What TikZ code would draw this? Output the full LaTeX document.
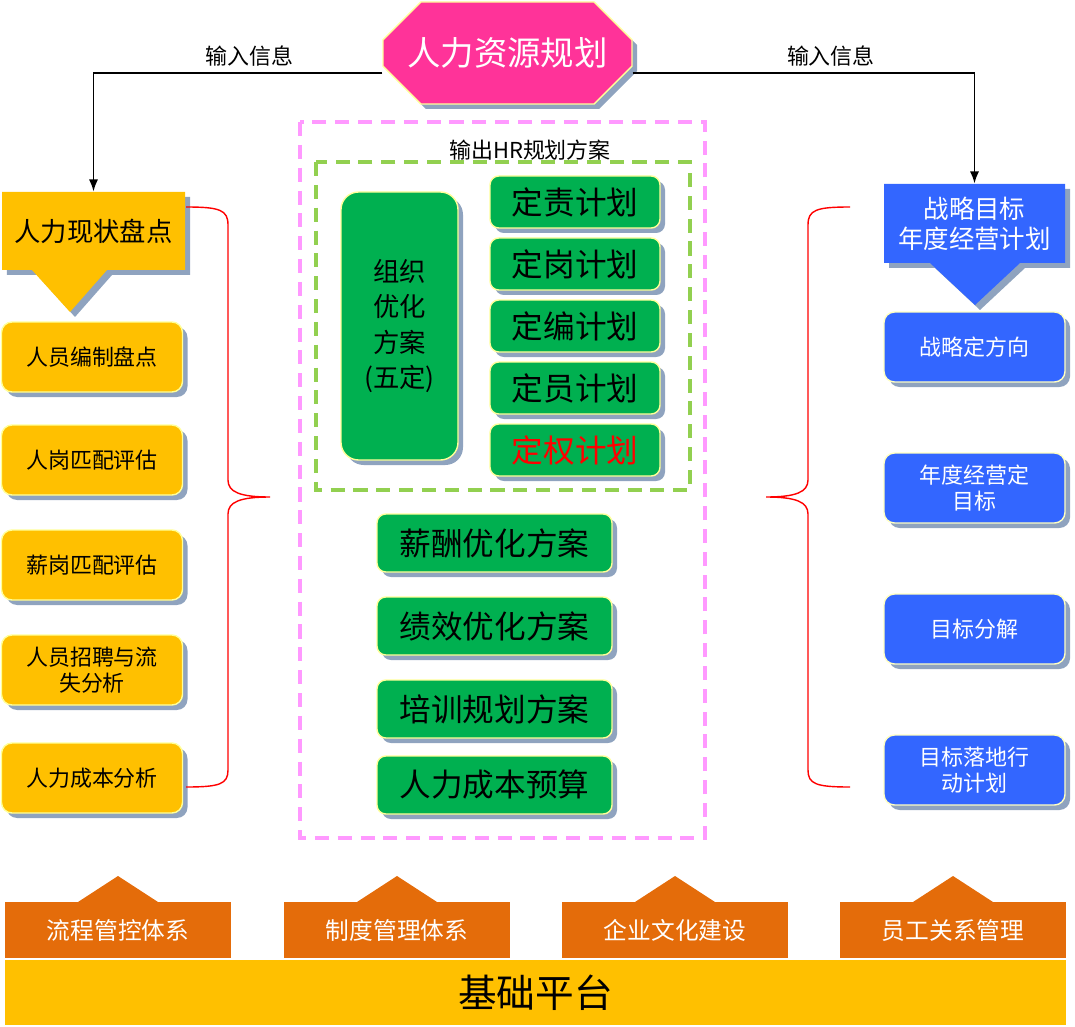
\documentclass[tikz,border=0pt]{standalone}
\usepackage{fontspec}
\setmainfont{Noto Sans CJK SC}
\usetikzlibrary{shapes.misc,shadows,arrows.meta}
\definecolor{hrpink}{HTML}{FF3399}
\definecolor{hryel}{HTML}{FFC000}
\definecolor{hrgrn}{HTML}{00B050}
\definecolor{hrblu}{HTML}{3366FF}
\definecolor{hrorg}{HTML}{E46C0A}
\definecolor{hrshd}{HTML}{8FA3BF}
\definecolor{hrrim}{HTML}{FFFF99}
\definecolor{hrdpk}{HTML}{FF99FF}
\definecolor{hrdgr}{HTML}{92D050}
\tikzset{
  sz/.style 2 args={minimum width=#1*0.02cm, minimum height=#2*0.02cm, inner sep=0pt},
  shd/.style={drop shadow={shadow xshift=0.1cm, shadow yshift=-0.1cm, fill=hrshd, opacity=1}},
  ybox/.style={rounded corners=6pt, fill=hryel, draw=hrrim, line width=0.8pt, shd, font=\fontsize{12.5}{15}\selectfont, align=center, sz={181}{70}},
  bbox/.style={rounded corners=6pt, fill=hrblu, draw=hrrim!60!white, line width=0.8pt, shd, text=white, font=\fontsize{12.5}{15}\selectfont, align=center, sz={181}{70}},
  gbox/.style={rounded corners=5pt, fill=hrgrn, draw=hrrim, line width=0.8pt, shd, font=\fontsize{18}{20}\selectfont},
  obox/.style={fill=hrorg, text=white, font=\fontsize{13.5}{16}\selectfont, sz={226}{56}},
  brace/.style={red, line width=0.8pt},
}
\begin{document}
\begin{tikzpicture}[x=0.02cm, y=-0.02cm]
  \useasboundingbox (0,0) rectangle (1075,1027);
  % top
  \node[chamfered rectangle, chamfered rectangle xsep=0.5cm, chamfered rectangle ysep=0.45cm,
        fill=hrpink, draw=hrrim, line width=0.8pt, shd, sz={249}{102}, text=white,
        font=\fontsize{19}{22}\selectfont] (top) at (507.5,53) {人力资源规划};
  % headers
  \path[fill=hryel, shd] (2,192) -- (185,192) -- (185,270) -- (107,270) -- (70,312)
        -- (32,270) -- (2,270) -- cycle;
  \node[sz={183}{78}, font=\fontsize{15}{18}\selectfont] (lhead) at (93.5,231) {人力现状盘点};
  \path[fill=hrblu, shd] (884,184) -- (1065,184) -- (1065,263) -- (1020,263) -- (975,305)
        -- (930,263) -- (884,263) -- cycle;
  \node[sz={181}{79}, text=white, align=center, font=\fontsize{14.5}{17}\selectfont] (rhead) at (974.5,223.5) {战略目标\\年度经营计划};
  \draw[-{Latex[length=7pt]}, line width=1.1pt] ([yshift=-0.4cm]top.west) -| (lhead.north)
        node[pos=0.23, above] {\fontsize{12.5}{14}\selectfont 输入信息};
  \draw[-{Latex[length=7pt]}, line width=1.1pt] ([yshift=-0.4cm]top.east) -| (rhead.north)
        node[pos=0.29, above] {\fontsize{12.5}{14}\selectfont 输入信息};
  % left column
  \node[ybox] (l1) at (92,357) {人员编制盘点};
  \node[ybox] (l2) at (92,460) {人岗匹配评估};
  \node[ybox] (l3) at (92,565) {薪岗匹配评估};
  \node[ybox] (l4) at (92,670) {人员招聘与流\\失分析};
  \node[ybox] (l5) at (92,778) {人力成本分析};
  % right column
  \node[bbox] (r1) at (974.5,347) {战略定方向};
  \node[bbox] (r2) at (974.5,488) {年度经营定\\目标};
  \node[bbox] (r3) at (974.5,629) {目标分解};
  \node[bbox] (r4) at (974.5,770) {目标落地行\\动计划};
  % braces
  \draw[brace] (186,207) .. controls (220,207) and (228,210) .. (228,225) -- (228,480)
        .. controls (228,492) and (240,497) .. (270,497)
        .. controls (240,497) and (228,502) .. (228,514) -- (228,770)
        .. controls (228,784) and (220,787) .. (186,787);
  \draw[brace] (850,207) .. controls (816,207) and (808,210) .. (808,225) -- (808,480)
        .. controls (808,492) and (796,497) .. (766,497)
        .. controls (796,497) and (808,502) .. (808,514) -- (808,770)
        .. controls (808,784) and (816,787) .. (850,787);
  % middle
  \draw[dash pattern=on 8pt off 5pt, line width=2pt, draw=hrdpk] (300,122) rectangle (705,838);
  \node[font=\fontsize{12.5}{15}\selectfont] (outl) at (530,150) {输出HR规划方案};
  \draw[dash pattern=on 8pt off 5pt, line width=2.5pt, draw=hrdgr] (316,162) rectangle (690,490);
  \node[gbox, sz={117}{268}, align=center, font=\fontsize{15}{20}\selectfont, rounded corners=10pt] (org) at (399.5,326) {组织\\优化\\方案\\(五定)};
  \node[gbox, sz={170}{52}] (p1) at (575,202) {定责计划};
  \node[gbox, sz={170}{52}] (p2) at (575,264) {定岗计划};
  \node[gbox, sz={170}{52}] (p3) at (575,326) {定编计划};
  \node[gbox, sz={170}{52}] (p4) at (575,388) {定员计划};
  \node[gbox, sz={170}{52}, text=red] (p5) at (575,450) {定权计划};
  \node[gbox, sz={235}{58}] (m1) at (494.5,543) {薪酬优化方案};
  \node[gbox, sz={235}{58}] (m2) at (494.5,626) {绩效优化方案};
  \node[gbox, sz={235}{58}] (m3) at (494.5,709) {培训规划方案};
  \node[gbox, sz={235}{58}] (m4) at (494.5,785) {人力成本预算};
  % bottom
  \foreach \x/\t in {118/流程管控体系, 397/制度管理体系, 675/企业文化建设, 953/员工关系管理}{
    \fill[hrorg] (\x-40,902) -- (\x,876) -- (\x+40,902) -- cycle;
    \node[obox] (b\x) at (\x,930) {\t};
  }
  \node[fill=hryel, sz={1061}{65}, font=\fontsize{22}{26}\selectfont] (base) at (535.5,992.5) {基础平台};
\end{tikzpicture}
\end{document}
